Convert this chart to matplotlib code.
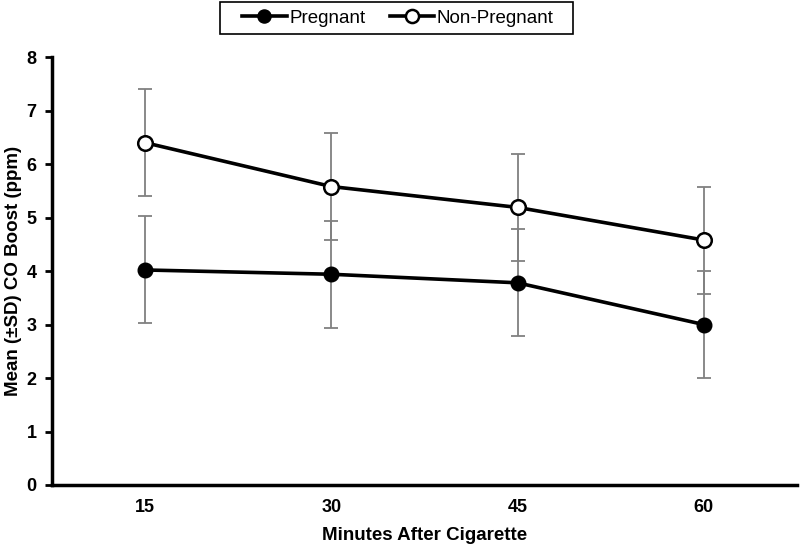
import matplotlib
matplotlib.use("Agg")
import matplotlib.pyplot as plt
from matplotlib.patches import Rectangle

minutes = ["15", "30", "45", "60"]
pregnant = [4.02, 3.94, 3.78, 3.00]
pregnant_sd = [1.0, 1.0, 1.0, 1.0]
non_pregnant = [6.40, 5.58, 5.19, 4.58]
non_pregnant_sd = [1.0, 1.0, 1.0, 1.0]
yticks = [0, 1, 2, 3, 4, 5, 6, 7, 8]

plt.rcParams['font.family'] = ['Liberation Sans', 'DejaVu Sans']

fig = plt.figure(figsize=(8.0, 5.49), dpi=100)
ax = fig.add_axes([0.065, 0.1166, 0.931, 0.7794])

x = list(range(len(minutes)))
err_kw = dict(ecolor='#808080', elinewidth=1.3, capsize=5, capthick=1.3)
ax.errorbar(x, pregnant, yerr=pregnant_sd, fmt='none', zorder=2, **err_kw)
ax.errorbar(x, non_pregnant, yerr=non_pregnant_sd, fmt='none', zorder=2, **err_kw)
ax.plot(x, pregnant, color='black', lw=2.6, marker='o', markersize=10.5,
        markerfacecolor='black', markeredgecolor='black', label='Pregnant', zorder=3)
ax.plot(x, non_pregnant, color='black', lw=2.6, marker='o', markersize=10.5,
        markerfacecolor='white', markeredgecolor='black', markeredgewidth=1.8,
        label='Non-Pregnant', zorder=3)

ax.set_xlim(-0.5, 3.5)
ax.set_ylim(0, 8)
ax.set_xticks(x)
ax.set_xticklabels(minutes)
ax.set_yticks(yticks)
ax.tick_params(axis='x', length=0, pad=10, labelsize=13)
ax.tick_params(axis='y', length=5, width=2, direction='out', pad=6, labelsize=13)
for lab in ax.get_xticklabels() + ax.get_yticklabels():
    lab.set_fontweight('bold')
for s in ['top', 'right']:
    ax.spines[s].set_visible(False)
for s in ['left', 'bottom']:
    ax.spines[s].set_linewidth(2.5)

ax.set_xlabel('Minutes After Cigarette', fontsize=13.5, fontweight='bold', labelpad=8)
ax.set_ylabel('Mean (\u00b1SD) CO Boost (ppm)', fontsize=13.5, fontweight='bold', labelpad=3)

leg = fig.legend(loc='center', bbox_to_anchor=(0.4975, 0.967), ncol=2, frameon=False,
                 fontsize=13.5, handlelength=2.35,
                 handletextpad=0.15, columnspacing=1.3, borderpad=0.3, markerscale=0.9)
fig.patches.append(Rectangle((0.275, 0.938), 0.441, 0.0583, transform=fig.transFigure,
                             fill=False, edgecolor='black', linewidth=1.2, zorder=5))

fig.savefig('out.png', dpi=100)
